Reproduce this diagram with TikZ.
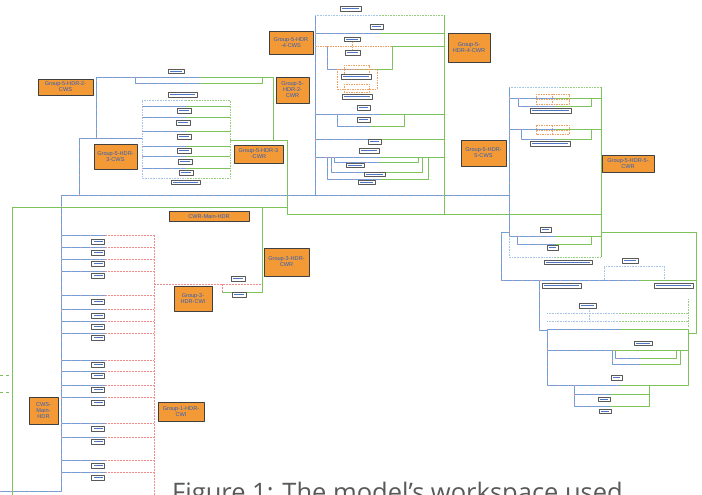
\documentclass[tikz,border=0pt]{standalone}
\usepackage{fontspec}
\setmainfont{Liberation Sans}
\newfontfamily\capfont{Open Sans}
\definecolor{cwsblue}{HTML}{6F9FDB}
\definecolor{cwrgreen}{HTML}{7CC35B}
\definecolor{cwired}{HTML}{F28C8C}
\definecolor{tagorange}{HTML}{F39A37}
\definecolor{tagtext}{HTML}{2E5DB8}
\definecolor{pipeorange}{HTML}{F0A060}
\begin{document}
\begin{tikzpicture}[x=1pt,y=-1pt,line join=round,
  hdr/.style={draw=black!75,fill=tagorange,line width=0.9pt,text=tagtext,font=\fontsize{5.6}{6}\selectfont,align=center,inner sep=0pt},
  vlv/.style={draw=black!65,fill=white,line width=0.7pt,inner sep=0pt,minimum height=4.5pt,
    path picture={\fill[tagtext!85] ([xshift=2pt,yshift=-1.3pt]path picture bounding box.north west) rectangle ([xshift=-2pt,yshift=-2.3pt]path picture bounding box.north east);}},
  cws/.style={draw=cwsblue,line width=0.9pt,postaction={draw=cwired,line width=0.4pt,dash pattern=on 0.6pt off 9pt}},
  cwr/.style={draw=cwrgreen,line width=0.9pt},
  cwi/.style={draw=cwired,line width=0.7pt,dash pattern=on 2pt off 1pt},
  thin/.style={draw=cwsblue!60,line width=0.6pt,densely dotted},
  thing/.style={draw=cwrgreen!80,line width=0.6pt,densely dotted},
  orng/.style={draw=pipeorange,line width=0.6pt,dash pattern=on 1.5pt off 1pt}]
\useasboundingbox (0,0) rectangle (702,495);
% main headers
\draw[cws] (0,491) -- (61,491) -- (61,195) -- (509,195);
\draw[cwr] (12,495) -- (12,207) -- (287,207);
\draw[cwr,line width=0.6pt,dashed] (0,375) -- (12,375) (0,392) -- (12,392);
% group 1
\draw[cwi] (154,235) -- (154,495);
\foreach \y in {235,247,259,271,295,309,321,333,360,371,385,397,423,437,460,472}
  {\draw[cws,line width=0.7pt] (61,\y) -- (105,\y); \draw[cwi] (105,\y) -- (154,\y);}
% group 3
\draw[cwi] (154,284) -- (262,284);
\draw[cwr] (262,207) -- (262,292) -- (222,292);
\draw[cwi] (222,292) -- (222,284);
% group 5, hdr 2 and 3
\draw[cws] (79,195) -- (79,138) -- (142,138);
\draw[cws] (96,138) -- (96,77) -- (200,77);
\draw[cwr] (200,77) -- (273,77) -- (273,140);
\draw[cws] (135,77) -- (135,83) -- (200,83);
\draw[cwr] (200,83) -- (262,83) -- (262,77);
\draw[thin] (186,100) -| (142,178) -- (186,178);
\draw[thing] (186,100) -| (230,178) -- (186,178);
\foreach \y in {106,117,131,146,156,168}
  {\draw[cws,line width=0.6pt] (142,\y) -- (186,\y); \draw[cwr,line width=0.6pt] (186,\y) -- (230,\y);}
\draw[cwr] (230,140) -- (287,140) -- (287,214) -- (601,214);
% group 5, hdr 4
\draw[cws] (315,15) -- (315,195);
\draw[thin] (315,15) -- (380,15);
\draw[thing] (380,15) -- (444,15);
\draw[cwr] (444,15) -- (444,214);
\foreach \y in {33,114,139,157}
  {\draw[cws,line width=0.7pt] (315,\y) -- (380,\y); \draw[cwr,line width=0.7pt] (380,\y) -- (444,\y);}
\draw[orng] (315,46) -- (392,46);
\draw[cwr,line width=0.7pt] (392,46) -- (444,46);
\draw[cws,line width=0.7pt] (327,46) -- (327,69) -- (360,69);
\draw[cwr,line width=0.7pt] (360,69) -- (392,69) -- (392,46);
\draw[orng] (352,42) -- (352,51) (344,65) rectangle (369,74) (337,69) rectangle (377,89) (344,84) rectangle (369,92);
\draw[cws,line width=0.7pt] (337,114) -- (337,126) -- (370,126);
\draw[cwr,line width=0.7pt] (370,126) -- (404,126) -- (404,114);
\foreach \l/\b/\r in {327/179/428,331/172/422,334/162/418}
  {\draw[cws,line width=0.7pt] (\l,157) -- (\l,\b) -- (380,\b); \draw[cwr,line width=0.7pt] (380,\b) -- (\r,\b) -- (\r,157);}
% group 5, hdr 5
\draw[thin] (509,87) -- (560,87);
\draw[thing] (560,87) -- (601,87);
\draw[cws] (509,87) -- (509,236);
\draw[thin] (509,236) -- (509,257) -- (555,257);
\draw[thing] (555,257) -- (601,257);
\draw[cwr] (601,87) -- (601,257);
\foreach \y/\l/\b in {98/518/106,129/521/139,236/517/244}
  {\draw[cws,line width=0.7pt] (509,\y) -- (555,\y) (\l,\y) -- (\l,\b) -- (555,\b);
   \draw[cwr,line width=0.7pt] (555,\y) -- (601,\y) (555,\b) -- (591,\b) -- (591,\y);}
\draw[orng] (536,94) rectangle (569,104) (536,125) rectangle (569,134);
\draw[orng] (552,94) -- (552,104) (552,125) -- (552,134) (536,99) -- (569,99) (536,130) -- (569,130);
\draw[cws] (509,232) -- (501,232) -- (501,280) -- (640,280);
\draw[cwr] (640,280) -- (696,280);
\draw[cwr] (601,232) -- (696,232) -- (696,333) -- (688,333);
\draw[thin] (604,280) -- (604,266) -- (664,266) -- (664,280);
\draw[cws] (539,280) -- (539,330) -- (547,330);
\draw[thin] (547,313) -- (620,313) (547,321) -- (620,321) (589,305) -- (589,321);
\draw[thing] (620,313) -- (688,313) (620,321) -- (688,321) (688,299) -- (688,327);
\draw[cws] (547,329) -- (547,385) -- (620,385);
\draw[cws,line width=0.7pt] (547,329) -- (620,329) (547,350) -- (612,350);
\draw[cwr] (620,329) -- (688,329) -- (688,385) -- (620,385) (612,350) -- (688,350);
\draw[cws,line width=0.7pt] (612,350) -- (612,364) -- (640,364) (615,350) -- (615,358) -- (640,358);
\draw[cwr,line width=0.7pt] (640,364) -- (680,364) -- (680,350) (640,358) -- (676,358) -- (676,350);
\draw[cws,line width=0.7pt] (574,385) -- (574,406) -- (610,406) (574,394) -- (610,394);
\draw[cwr,line width=0.7pt] (610,406) -- (649,406) -- (649,385) (610,394) -- (649,394);
% valves
\foreach \n/\x/\y/\w in {a1/176/71.5/16,a2/182.5/95/29,a3/184/111/14,a4/183/123/14,a5/184/137/14,a6/184/151/14,a7/185/162/14,a8/186/173/14,a9/185.5/182.5/29,
  b1/350.5/9/21,b2/376.5/27/13,b3/352/39.5/16,b4/352.5/53/15,b5/356/77/30,b6/357/97/30,b7/363.5/108/13,b8/363.5/120/13,b9/374.5/142/13,b10/369/151/20,b11/355/165.5/18,b12/374.5/174.5/21,b13/366.5/182.5/17,
  c1/550.5/111/41,c2/550/144/40,c3/545.5/230/11,c4/552.5/248/11,c5/568/262.5/48,c6/630/261/16,c7/561.5/286/39,c8/673.5/286/39,c9/587.5/306/17,c10/643/343.5/18,c11/616.5/378/11,c12/604/399.5/12,c13/605/411.5/12,
  d1/238/279/14,d2/239/295/14}
  \node[vlv,minimum width=\w pt] (\n) at (\x,\y) {};
\foreach \y [count=\i] in {242,253,264,276,302,316,327,338,365,376,390,403,429,442,466,478}
  \node[vlv,minimum width=13pt] (e\i) at (98,\y) {};
% headers
\node[hdr,minimum width=44pt,minimum height=23pt] (g54s) at (291,42.5) {Group-5-HDR\\-4-CWS};
\node[hdr,minimum width=55pt,minimum height=16pt] (g52s) at (65.5,87) {Group-5-HDR-2-\\CWS};
\node[hdr,minimum width=33pt,minimum height=26pt] (g52r) at (292.5,90) {Group-5-\\HDR-2-\\CWR};
\node[hdr,minimum width=43pt,minimum height=25pt] (g53s) at (115.5,156.5) {Group-5-HDR-\\3-CWS};
\node[hdr,minimum width=49pt,minimum height=18pt] (g53r) at (258.5,154) {Group-5-HDR-3\\-CWR};
\node[hdr,minimum width=42pt,minimum height=29pt] (g54r) at (469,47.5) {Group-5-\\HDR-4-CWR};
\node[hdr,minimum width=45pt,minimum height=26pt] (g55s) at (483.5,153) {Group-5-HDR-\\5-CWS};
\node[hdr,minimum width=52pt,minimum height=17pt] (g55r) at (628,163.5) {Group-5-HDR-5-\\CWR};
\node[hdr,minimum width=80pt,minimum height=10pt] (cwrm) at (209,216) {CWR-Main-HDR};
\node[hdr,minimum width=45pt,minimum height=28pt] (g3r) at (286.5,262) {Group-3-HDR-\\CWR};
\node[hdr,minimum width=38pt,minimum height=25pt] (g3i) at (193,298.5) {Group-3-\\HDR-CWI};
\node[hdr,minimum width=29pt,minimum height=27pt] (cwsm) at (43.5,410.5) {CWS-\\Main-\\HDR};
\node[hdr,minimum width=46pt,minimum height=19pt] (g1i) at (181,411.5) {Group-1-HDR-\\CWI};
% caption, cut at the lower edge as in the screenshot
\node[anchor=base west,inner sep=0pt,text=black!65,font=\capfont\fontsize{25.5}{30}\selectfont] (cap) at (172,501) {Figure 1: The model’s workspace used};
\end{tikzpicture}
\end{document}
